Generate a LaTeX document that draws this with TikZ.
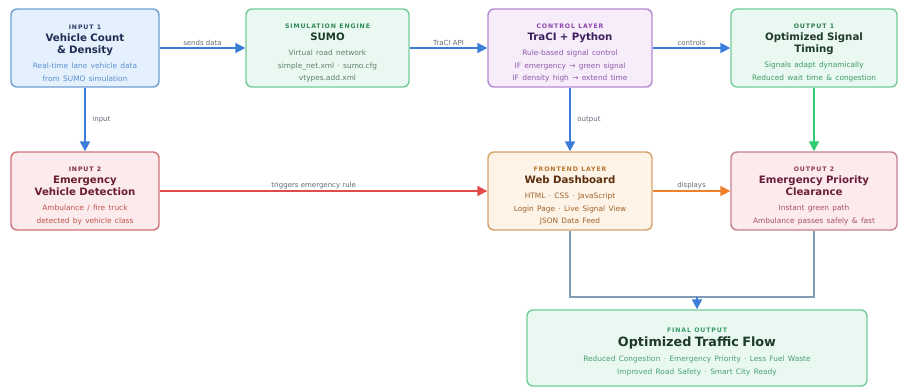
\documentclass[tikz,border=0pt]{standalone}
\usepackage{fontspec}
\setmainfont{DejaVu Sans}
\usetikzlibrary{arrows.meta}
\definecolor{bluefill}{HTML}{E4F0FB}\definecolor{blueline}{HTML}{6E9FD6}
\definecolor{greenfill}{HTML}{E9F8F0}\definecolor{greenline}{HTML}{74CC98}
\definecolor{purfill}{HTML}{F6ECFA}\definecolor{purline}{HTML}{B58BD6}
\definecolor{redfill}{HTML}{FCEBEC}\definecolor{redline}{HTML}{D2737A}
\definecolor{orfill}{HTML}{FDF3E6}\definecolor{orline}{HTML}{D7A06A}
\definecolor{pinkfill}{HTML}{FCEAED}\definecolor{pinkline}{HTML}{C47F8E}
\definecolor{arrblue}{HTML}{3B7DD8}\definecolor{arrgreen}{HTML}{2ECC71}
\definecolor{arrred}{HTML}{E04C4C}\definecolor{arror}{HTML}{F07F2A}
\definecolor{conn}{HTML}{7F9DB8}\definecolor{lbl}{HTML}{5F6B78}
% text colours
\definecolor{tA}{HTML}{2C3E6B}\definecolor{mA}{HTML}{1F2D55}\definecolor{dA}{HTML}{5B8FD4}
\definecolor{tB}{HTML}{2E8B57}\definecolor{mB}{HTML}{1A3A28}\definecolor{dB}{HTML}{5F7F6E}
\definecolor{tC}{HTML}{8E44AD}\definecolor{mC}{HTML}{3B1E5A}\definecolor{dC}{HTML}{8D5AA8}
\definecolor{tD}{HTML}{2E7D52}\definecolor{mD}{HTML}{1E3A2C}\definecolor{dD}{HTML}{3E9A68}
\definecolor{tE}{HTML}{7A2C3A}\definecolor{mE}{HTML}{6A1E2D}\definecolor{dE}{HTML}{C0504D}
\definecolor{tF}{HTML}{B8762F}\definecolor{mF}{HTML}{5C2E0E}\definecolor{dF}{HTML}{A0612A}
\definecolor{tG}{HTML}{8A3A58}\definecolor{mG}{HTML}{6A1E3A}\definecolor{dG}{HTML}{A8506A}
\definecolor{tH}{HTML}{3A9A6A}\definecolor{mH}{HTML}{1E3A2C}\definecolor{dH}{HTML}{4BA075}
\newcommand\bxc[7][15pt]{%
 {\color{#2}\fontsize{6.2}{7}\selectfont\bfseries\rule{0pt}{#1}\addfontfeature{LetterSpace=14}#3\par}
 {\color{#4}\fontsize{10.2}{12}\selectfont\bfseries #5\par}\vspace{2.5pt}
 {\color{#6}\fontsize{7.4}{12.6}\selectfont #7\par}}
\tikzset{
 box/.style={draw, rounded corners=6pt, line width=1.4pt, align=center, inner sep=0pt,
   minimum height=78pt},
 arr/.style={line width=1.8pt, -{Triangle[length=10pt,width=10pt]}},
 lab/.style={font=\fontsize{7}{8}\selectfont, text=lbl, inner sep=1.5pt}
}
\begin{document}
\begin{tikzpicture}[x=1pt,y=-1pt]
\useasboundingbox (0,0) rectangle (909,388);
\node[box, draw=blueline, fill=bluefill, minimum width=148pt, text width=144pt] (in1) at (85,48)
 {\bxc{tA}{INPUT 1}{mA}{Vehicle Count\\\& Density}{dA}{Real-time lane vehicle data\\from SUMO simulation}};
\node[box, draw=greenline, fill=greenfill, minimum width=163pt, text width=158pt] (sumo) at (327.5,48)
 {\bxc{tB}{SIMULATION ENGINE}{mB}{SUMO}{dB}{Virtual road network\\simple\_net.xml · sumo.cfg\\vtypes.add.xml}};
\node[box, draw=purline, fill=purfill, minimum width=164pt, text width=160pt] (ctl) at (570,48)
 {\bxc{tC}{CONTROL LAYER}{mC}{TraCI + Python}{dC}{Rule-based signal control\\IF emergency → green signal\\IF density high → extend time}};
\node[box, draw=greenline, fill=greenfill, minimum width=166pt, text width=162pt] (out1) at (814,48)
 {\bxc{tD}{OUTPUT 1}{mD}{Optimized Signal\\Timing}{dD}{Signals adapt dynamically\\Reduced wait time \& congestion}};
\node[box, draw=redline, fill=redfill, minimum width=148pt, text width=144pt] (in2) at (85,191)
 {\bxc{tE}{INPUT 2}{mE}{Emergency\\Vehicle Detection}{dE}{Ambulance / fire truck\\detected by vehicle class}};
\node[box, draw=orline, fill=orfill, minimum width=164pt, text width=160pt] (web) at (570,191)
 {\bxc{tF}{FRONTEND LAYER}{mF}{Web Dashboard}{dF}{HTML · CSS · JavaScript\\Login Page · Live Signal View\\JSON Data Feed}};
\node[box, draw=pinkline, fill=pinkfill, minimum width=166pt, text width=162pt] (out2) at (814,191)
 {\bxc{tG}{OUTPUT 2}{mG}{Emergency Priority\\Clearance}{dG}{Instant green path\\Ambulance passes safely \& fast}};
\node[box, draw=greenline, fill=greenfill, minimum width=340pt, text width=334pt, minimum height=76pt] (fin) at (697,348)
 {\bxc[12pt]{tH}{FINAL OUTPUT}{mH}{\fontsize{12.8}{14}\selectfont Optimized Traffic Flow}{dH}{Reduced Congestion · Emergency Priority · Less Fuel Waste\\Improved Road Safety · Smart City Ready}};
% connectors
\draw[arr, arrblue] (in1) -- node[lab, above] {sends data} (sumo);
\draw[arr, arrblue] (sumo) -- node[lab, above] {TraCI API} (ctl);
\draw[arr, arrblue] (ctl) -- node[lab, above] {controls} (out1);
\draw[arr, arrblue] (in1) -- node[lab, right=5pt] {input} (in2);
\draw[arr, arrblue] (ctl) -- node[lab, right=5pt] {output} (web);
\draw[arr, arrgreen] (out1) -- (out2);
\draw[arr, arrred] (in2) -- node[lab, above, pos=0.47] {triggers emergency rule} (web);
\draw[arr, arror] (web) -- node[lab, above] {displays} (out2);
\coordinate (j) at (697,297);
\draw[conn, line width=1.2pt] (web.south) |- (j) -| (out2.south);
\draw[arr, arrblue] (j) -- (fin.north);
\end{tikzpicture}
\end{document}
